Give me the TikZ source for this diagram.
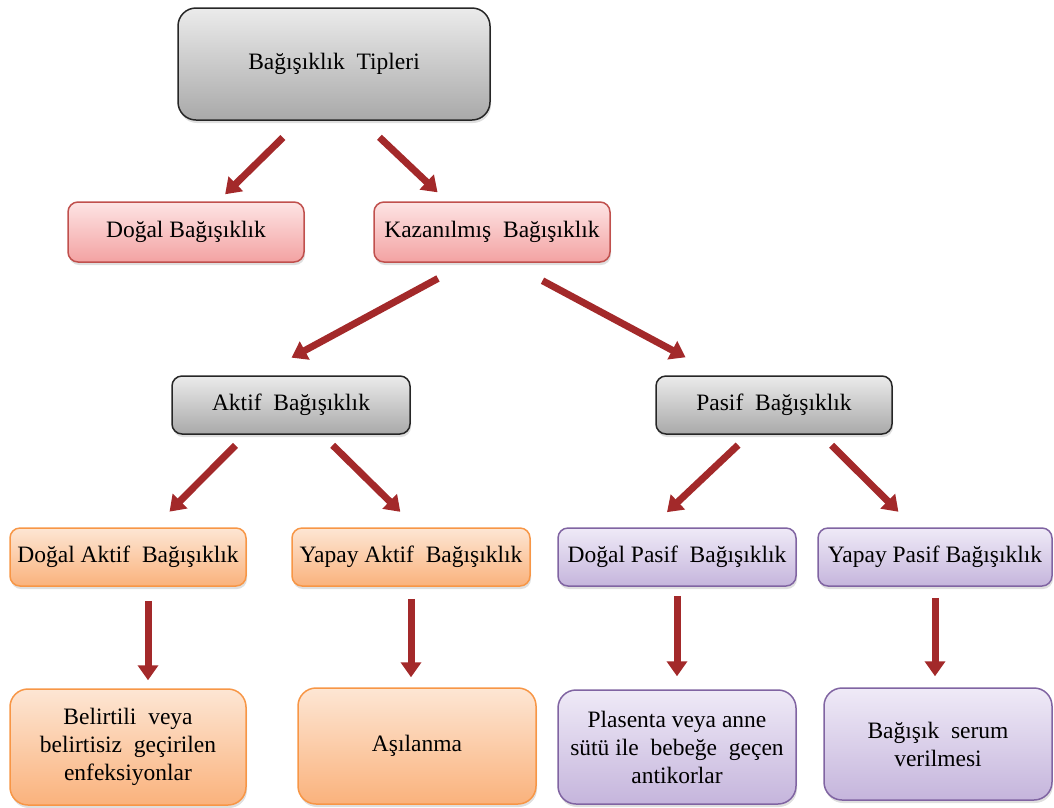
\documentclass[tikz,border=0pt]{standalone}
\usepackage{fontspec}
\setmainfont{Liberation Serif}
\usetikzlibrary{arrows.meta, calc, shadows}
\definecolor{cgrey}{HTML}{262626}
\definecolor{cgreytop}{HTML}{EBEBEB}
\definecolor{cgreybot}{HTML}{A9A9A9}
\definecolor{cred}{HTML}{C0504D}
\definecolor{credtop}{HTML}{FDE4E4}
\definecolor{credbot}{HTML}{F3A2A2}
\definecolor{corange}{HTML}{F79646}
\definecolor{corangetop}{HTML}{FDE6D4}
\definecolor{corangebot}{HTML}{FAB27C}
\definecolor{cpurple}{HTML}{8064A2}
\definecolor{cpurpletop}{HTML}{EFEAF7}
\definecolor{cpurplebot}{HTML}{C5B5DC}
\definecolor{carrow}{HTML}{A3292A}
\tikzset{
  every picture/.style={line width=1.5pt},
  box/.style={draw=#1, top color=#1top, bottom color=#1bot, rounded corners=10pt, align=center, inner sep=3pt,
    font=\fontsize{23.5}{28}\selectfont, drop shadow={shadow xshift=1pt, shadow yshift=-3pt, opacity=0.25}},
  box/.default=cgrey,
  bigbox/.style={box=#1, rounded corners=18pt, minimum height=116pt},
  arrow/.style={-{Triangle[length=15pt, width=20pt]}, draw=carrow, line width=7pt},
}

\begin{document}
\begin{tikzpicture}[x=1pt, y=-1pt]
  \useasboundingbox (0,0) rectangle (1054,807);
  % top
  \node[box, rounded corners=18pt, minimum width=312pt, minimum height=112pt] (tipi) at (334,64) {Bağışıklık~ Tipleri};
  % second row
  \node[box=cred, minimum width=236pt, minimum height=60pt] (dogal) at (186,232) {Doğal Bağışıklık};
  \node[box=cred, minimum width=236pt, minimum height=60pt] (kazan) at (492,232) {Kazanılmış~ Bağışıklık};
  % third row
  \node[box, minimum width=238pt, minimum height=58pt] (aktif) at (291,405) {Aktif~ Bağışıklık};
  \node[box, minimum width=236pt, minimum height=58pt] (pasif) at (774,405) {Pasif~ Bağışıklık};
  % fourth row
  \node[box=corange, minimum width=236pt, minimum height=58pt] (dogalaktif) at (128,557) {Doğal Aktif~ Bağışıklık};
  \node[box=corange, minimum width=238pt, minimum height=58pt] (yapayaktif) at (411,557) {Yapay Aktif~ Bağışıklık};
  \node[box=cpurple, minimum width=238pt, minimum height=58pt] (dogalpasif) at (677,557) {Doğal Pasif~ Bağışıklık};
  \node[box=cpurple, minimum width=234pt, minimum height=58pt] (yapaypasif) at (935,557) {Yapay Pasif Bağışıklık};
  % bottom row
  \node[bigbox=corange, minimum width=236pt] (enfeksiyon) at (128,747) {Belirtili~ veya\\belirtisiz~ geçirilen\\enfeksiyonlar};
  \node[bigbox=corange, minimum width=238pt] (asilanma) at (417,746) {Aşılanma};
  \node[bigbox=cpurple, minimum width=238pt, minimum height=114pt] (plasenta) at (677,747) {Plasenta veya anne\\sütü ile~ bebeğe~ geçen\\antikorlar};
  \node[bigbox=cpurple, minimum width=228pt, minimum height=112pt] (serum) at (938,744) {Bağışık~ serum\\verilmesi};
  % arrows
  \draw[arrow, shorten <=24pt, shorten >=10pt] ([xshift=-34pt]tipi.south) -- ([xshift=32pt]dogal.north);
  \draw[arrow, shorten <=24pt, shorten >=13pt] ([xshift=28pt]tipi.south) -- ([xshift=-45pt]kazan.north);
  \draw[arrow, shorten <=33pt, shorten >=37pt] ([xshift=-25pt]kazan.south) -- ([xshift=-32pt]aktif.north);
  \draw[arrow, shorten <=38pt, shorten >=38pt] ([xshift=17pt]kazan.south) -- ([xshift=-55pt]pasif.north);
  \draw[arrow, shorten <=15pt, shorten >=22pt] ([xshift=-45pt]aktif.south) -- ([xshift=26pt]dogalaktif.north);
  \draw[arrow, shorten <=15pt, shorten >=22pt] ([xshift=31pt]aktif.south) -- ([xshift=5pt]yapayaktif.north);
  \draw[arrow, shorten <=15pt, shorten >=22pt] ([xshift=-25pt]pasif.south) -- ([xshift=-26pt]dogalpasif.north);
  \draw[arrow, shorten <=15pt, shorten >=22pt] ([xshift=47pt]pasif.south) -- ([xshift=-21pt]yapaypasif.north);
  \draw[arrow, shorten <=14pt, shorten >=8pt] ([xshift=20pt]dogalaktif.south) -- ([xshift=20pt]enfeksiyon.north);
  \draw[arrow, shorten <=12pt, shorten >=10pt] (yapayaktif.south) -- (yapayaktif.south |- asilanma.north);
  \draw[arrow, shorten <=9pt, shorten >=13pt] (dogalpasif.south) -- (plasenta.north);
  \draw[arrow, shorten <=11pt, shorten >=11pt] (yapaypasif.south) -- (yapaypasif.south |- serum.north);
\end{tikzpicture}
\end{document}
